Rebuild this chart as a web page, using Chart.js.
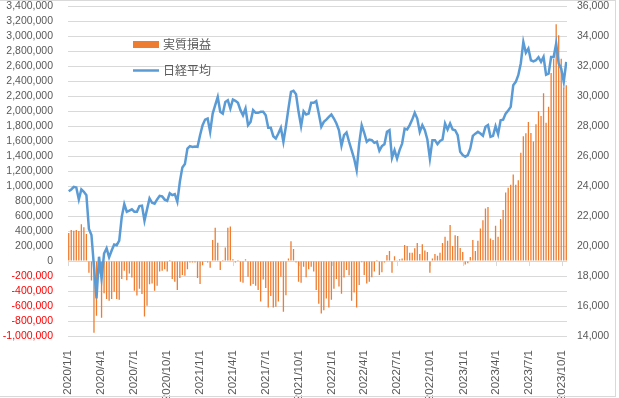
<!DOCTYPE html>
<html>
<head>
<meta charset="utf-8">
<script src="https://cdn.jsdelivr.net/npm/chart.js@4.4.0/dist/chart.umd.min.js"></script>
<style>
  html, body { margin: 0; padding: 0; background: #fff; }
  #wrap { width: 619px; height: 398px; position: relative; }
</style>
</head>
<body>
<div id="wrap"><canvas id="chart"></canvas></div>
<script>
// weekly records, one per friday starting at this date
const firstWeek = '2020/1/3';

// 実質損益 (yen), one value per week
const profit = [
  375000, 415000, 405000, 415000, 400000, 490000, 450000, 360000, -155000, -260000,
  -955000, -730000, -165000, -755000, -430000, -505000, -530000, -505000, -410000, -505000,
  -515000, -240000, -130000, -255000, -165000, -220000, -395000, -460000, -370000, -440000,
  -740000, -595000, -310000, -300000, -395000, -330000, -140000, -130000, -110000, -140000,
  15000, -240000, -275000, -385000, -225000, -185000, -195000, -110000, -20000, -20000,
  -20000, -225000, -305000, -55000, -10000, -20000, -90000, 280000, 445000, 245000,
  -120000, 15000, 180000, 445000, 460000, 25000, -20000, 15000, -275000, -290000,
  25000, -210000, -330000, -305000, -330000, -385000, -540000, -245000, -360000, -620000,
  -465000, -620000, -610000, -540000, -210000, -675000, -455000, 35000, 265000, 160000,
  -20000, -275000, -290000, -75000, -215000, -110000, -75000, -140000, -385000, -570000,
  -700000, -655000, -500000, -620000, -515000, -370000, -240000, -340000, -435000, -220000,
  -120000, -190000, -530000, -420000, -620000, -320000, -15000, -185000, -300000, -275000,
  -215000, -140000, 15000, -185000, -150000, -20000, 80000, 135000, -155000, 65000,
  5000, 25000, 35000, 215000, 200000, 110000, 110000, 170000, 240000, 95000,
  225000, 140000, 120000, -155000, 35000, 95000, 70000, 110000, 240000, 325000,
  270000, 480000, 200000, 345000, 335000, 175000, 120000, -45000, -30000, 55000,
  280000, 135000, 270000, 435000, 545000, 700000, 720000, 300000, 280000, 470000,
  325000, 560000, 680000, 915000, 980000, 1020000, 1155000, 1020000, 1080000, 1445000,
  1665000, 1705000, 1855000, 1710000, 1595000, 1825000, 2000000, 1935000, 2240000, 1845000,
  2060000, 2510000, 2700000, 3160000, 3015000, 2700000, 2315000, 2345000
];

// 日経平均, weekly close
const nikkei = [
  23660, 23780, 23950, 23910, 23110, 23780, 23620, 23400, 21140, 20740,
  18620, 16510, 19290, 17840, 19500, 19850, 19250, 19700, 20110, 20060,
  20360, 21950, 22800, 22290, 22360, 22450, 22290, 22290, 22670, 22700,
  21690, 22450, 23180, 22890, 22830, 23110, 23350, 23310, 23100, 23020,
  23520, 23400, 23470, 22960, 24290, 25250, 25470, 26510, 26670, 26620,
  26650, 26620, 27400, 28070, 28440, 28510, 27620, 28840, 29400, 29950,
  28960, 28840, 29620, 29730, 29180, 29780, 29690, 29560, 29070, 28730,
  29180, 28070, 28290, 29070, 28890, 28890, 28960, 28960, 28730, 27890,
  27890, 27330, 27180, 27510, 27890, 26960, 28000, 29180, 30290, 30360,
  30130, 28960, 28000, 29000, 28780, 28840, 29560, 29560, 29670, 28840,
  27960, 28290, 28440, 28620, 28780, 28510, 28180, 27730, 26700, 27400,
  27580, 26960, 26400, 25840, 25070, 26840, 28070, 27560, 26960, 27110,
  27070, 26890, 26960, 26360, 26670, 26800, 27620, 27730, 25890, 26400,
  25840, 26400, 26840, 27840, 27780, 28070, 28440, 28890, 28510, 27620,
  28070, 27730, 27110, 25840, 27070, 27070, 26800, 27020, 27110, 28180,
  27780, 28180, 27780, 27730, 27400, 26290, 26070, 25960, 26070, 26510,
  27350, 27500, 27620, 27510, 27360, 27960, 28070, 27290, 27360, 28000,
  27470, 28400, 28440, 28840, 29050, 29290, 30730, 30960, 31400, 32200,
  33620, 32900, 33180, 32400, 32330, 32400, 32600, 32290, 32620, 31440,
  31510, 32620, 32620, 33510, 32180, 31840, 30960, 32290
];

// quarterly labels on the date axis
const quarterTicks = [
  '2020/1/1', '2020/4/1', '2020/7/1', '2020/10/1',
  '2021/1/1', '2021/4/1', '2021/7/1', '2021/10/1',
  '2022/1/1', '2022/4/1', '2022/7/1', '2022/10/1',
  '2023/1/1', '2023/4/1', '2023/7/1', '2023/10/1'
];

//days since the first axis label
function day_num(s) {
    const p = s.split('/').map(Number);
    const p0 = quarterTicks[0].split('/').map(Number);
    return (Date.UTC(p[0], p[1]-1, p[2]) - Date.UTC(p0[0], p0[1]-1, p0[2])) / 86400000;
}

function weekly(values) {
    const d0 = day_num(firstWeek);
    return values.map((v, i) => ({x: d0 + 7*i, y: v}));
}

const tickFont = {family: 'Liberation Sans', size: 10.5};
const grey = '#595959';
const clear = 'rgba(0,0,0,0)';

// small tick marks where the date axis crosses zero
const zeroTicks = {
    id: 'zeroTicks',
    beforeDatasetsDraw(chart) {
        const ctx = chart.ctx;
        const x = chart.scales.x, y = chart.scales.y;
        const y0 = y.getPixelForValue(0);
        ctx.save();
        ctx.strokeStyle = '#d9d9d9';
        ctx.lineWidth = 1;
        ctx.beginPath();
        for(let t of x.ticks) {
            const px = Math.round(x.getPixelForValue(t.value)) + 0.5;
            ctx.moveTo(px, y0);
            ctx.lineTo(px, y0 + 5);
        }
        ctx.stroke();
        ctx.restore();
    }
};

// legend sitting inside the plot, plus the outer frame
const boxLegend = {
    id: 'boxLegend',
    afterDraw(chart, args, opts) {
        const ctx = chart.ctx;
        ctx.save();
        ctx.font = '12px "Noto Sans CJK JP"';
        ctx.textBaseline = 'middle';
        chart.data.datasets.forEach((ds, i) => {
            const cy = opts.y + i*opts.gap;
            if(ds.type === 'line') {
                ctx.strokeStyle = ds.borderColor;
                ctx.lineWidth = ds.borderWidth;
                ctx.beginPath();
                ctx.moveTo(opts.x, cy);
                ctx.lineTo(opts.x + 26, cy);
                ctx.stroke();
            } else {
                ctx.fillStyle = ds.backgroundColor;
                ctx.fillRect(opts.x, cy - 3.5, 26, 7);
            }
            ctx.fillStyle = grey;
            ctx.fillText(ds.label, opts.x + 30, cy);
        });
        ctx.strokeStyle = '#d9d9d9';
        ctx.lineWidth = 1;
        ctx.strokeRect(-1, 0.5, 616.5, 396);
        ctx.restore();
    }
};

new Chart(document.getElementById('chart'), {
    type: 'bar',
    data: {
        datasets: [
            {
                type: 'bar',
                label: '実質損益',
                data: weekly(profit),
                backgroundColor: '#ED7D31',
                barThickness: 1.3,
                inflateAmount: 0,
                yAxisID: 'y',
                order: 1
            },
            {
                type: 'line',
                label: '日経平均',
                data: weekly(nikkei),
                borderColor: '#5B9BD5',
                borderWidth: 2.5,
                pointRadius: 0,
                tension: 0,
                yAxisID: 'y1',
                order: 0
            }
        ]
    },
    options: {
        responsive: true,
        maintainAspectRatio: false,
        animation: false,
        devicePixelRatio: 1,
        layout: {padding: 0},
        plugins: {
            legend: {display: false},
            tooltip: {enabled: false},
            boxLegend: {x: 133, y: 44.5, gap: 26}
        },
        scales: {
            x: {
                type: 'linear',
                min: 0,
                max: 1383,
                offset: false,
                grid: {display: false},
                border: {display: false},
                afterBuildTicks: (s) => { s.ticks = quarterTicks.map(t => ({value: day_num(t)})); },
                afterFit: (s) => { s.height = 62; },
                ticks: {
                    autoSkip: false,
                    minRotation: 90,
                    maxRotation: 90,
                    padding: 6,
                    color: grey,
                    font: {family: 'Liberation Sans', size: 11.5},
                    callback: (v) => quarterTicks.find(t => day_num(t) === v)
                }
            },
            y: {
                position: 'left',
                min: -1000000,
                max: 3400000,
                // invisible tick marks keep the gap between labels and plot
                grid: {color: '#d9d9d9', drawTicks: true, tickLength: 15, tickColor: clear},
                border: {display: false},
                afterFit: (s) => { s.width = 68; },
                ticks: {
                    stepSize: 200000,
                    autoSkip: false,
                    padding: 0,
                    font: tickFont,
                    color: (c) => c.tick.value < 0 ? '#ff0000' : grey,
                    callback: (v) => v.toLocaleString('en-US')
                }
            },
            y1: {
                position: 'right',
                min: 14000,
                max: 36000,
                grid: {drawOnChartArea: false, drawTicks: true, tickLength: 10, tickColor: clear},
                border: {display: false},
                afterFit: (s) => { s.width = 52; },
                ticks: {
                    stepSize: 2000,
                    autoSkip: false,
                    padding: 0,
                    font: tickFont,
                    color: grey,
                    callback: (v) => v.toLocaleString('en-US')
                }
            }
        }
    },
    plugins: [zeroTicks, boxLegend]
});
</script>
</body>
</html>
